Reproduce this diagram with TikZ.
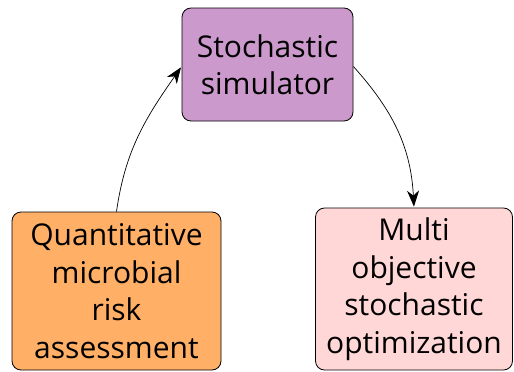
\documentclass[tikz,border=0pt]{standalone}
\usepackage{fontspec}
\setmainfont{Open Sans}
\usetikzlibrary{arrows.meta, positioning}
\definecolor{simcolor}{HTML}{CC99CC}
\definecolor{riskcolor}{HTML}{FFB066}
\definecolor{optcolor}{HTML}{FFD7D7}
\tikzstyle{block}	=[rectangle, rounded corners=9pt, draw=black, line width=0.8pt, text centered, align=center, inner sep=0pt, font=\fontsize{30}{37.5}\selectfont]
\tikzstyle{link}	=[-{Stealth[length=16pt, width=12pt, inset=5pt]}, line width=0.7pt, shorten >=1pt]

\begin{document}
\begin{tikzpicture}[x=1pt, y=-1pt]
	\useasboundingbox (0,0) rectangle (514,372);

	\node (Sim)			[block, fill=simcolor,	minimum width=171pt, minimum height=113pt]	at (267.5, 64.5)	{	Stochastic\\simulator	};
	\node (Risk)		[block, fill=riskcolor,	minimum width=209pt, minimum height=158pt]	at (116.5, 291.0)	{	Quantitative\\microbial\\risk\\assessment	};
	\node (Optim)		[block, fill=optcolor,	minimum width=197pt, minimum height=162pt]	at (414.0, 289.0)	{	Multi\\objective\\stochastic\\optimization	};

	\draw [link] (Risk.north) to[out=82, in=-125] ([yshift=-2pt]Sim.west);
	\draw [link] ([yshift=-2pt]Sim.east) to[out=-48, in=93] (Optim.north);

\end{tikzpicture}
\end{document}
